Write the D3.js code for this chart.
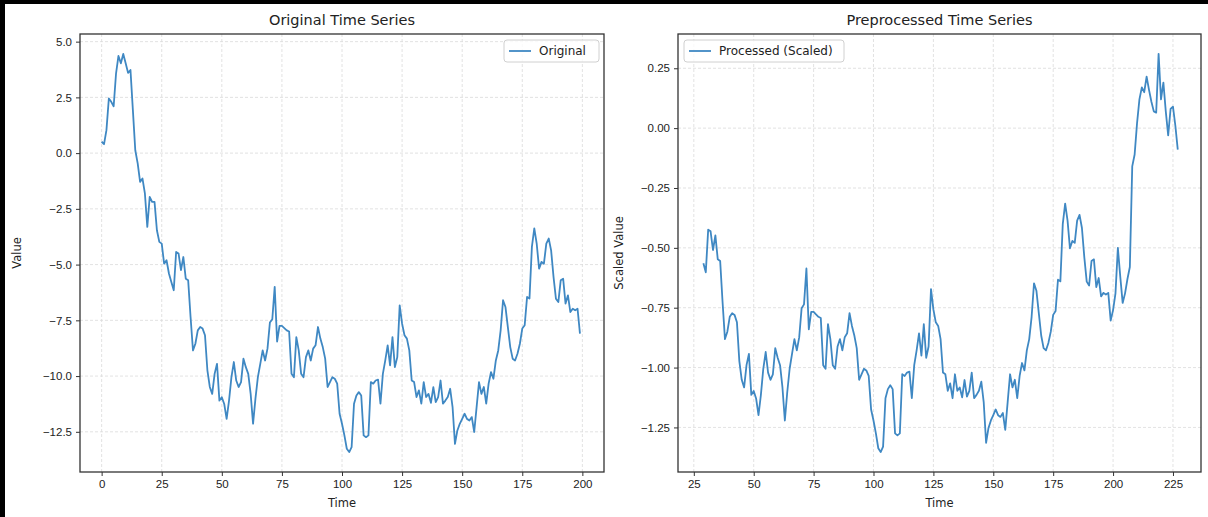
<!DOCTYPE html>
<html lang="en">
<head>
<meta charset="utf-8">
<title>Time Series</title>
<script src="https://d3js.org/d3.v7.min.js"></script>
<style>
  body { margin: 0; background: #fff; }
  svg { display: block; font-family: "DejaVu Sans", sans-serif; }
</style>
</head>
<body>
<svg width="1208" height="517"></svg>
<script>
// original series, time 0..199
var originalStart = 0;
var originalValues = [
  0.51, 0.40, 1.03, 2.45, 2.30, 2.10, 3.58, 4.36, 4.03, 4.45,
  4.03, 3.60, 3.73, 1.93, 0.13, -0.46, -1.29, -1.14, -1.81, -3.31,
  -1.96, -2.19, -2.19, -3.46, -3.98, -4.06, -4.96, -4.80, -5.40, -5.78,
  -6.15, -4.43, -4.50, -5.25, -4.66, -5.63, -5.70, -7.35, -8.85, -8.55,
  -7.95, -7.80, -7.87, -8.17, -9.74, -10.49, -10.80, -9.90, -9.45, -11.10,
  -10.95, -11.25, -11.92, -11.10, -10.05, -9.37, -10.20, -10.49, -10.27, -9.22,
  -9.60, -9.90, -10.80, -12.14, -11.00, -10.05, -9.45, -8.85, -9.30, -8.77,
  -7.60, -7.45, -6.00, -8.45, -7.75, -7.75, -7.85, -7.95, -8.00, -9.90,
  -10.05, -8.25, -8.85, -9.90, -10.05, -9.15, -8.85, -9.30, -8.77, -8.62,
  -7.80, -8.32, -8.70, -9.22, -10.49, -10.27, -10.05, -10.12, -10.34, -11.69,
  -12.14, -12.66, -13.26, -13.41, -13.19, -11.24, -10.87, -10.72, -10.87, -12.66,
  -12.74, -12.66, -10.27, -10.34, -10.20, -10.16, -11.24, -9.90, -9.30, -8.62,
  -9.52, -8.25, -9.60, -9.15, -6.83, -7.65, -8.17, -8.32, -8.85, -10.20,
  -10.27, -10.94, -10.64, -11.24, -10.27, -10.94, -10.80, -11.20, -10.50, -11.17,
  -10.94, -10.20, -11.24, -11.10, -10.94, -10.57, -11.39, -13.04, -12.44, -12.14,
  -11.92, -11.69, -11.92, -11.99, -11.84, -12.51, -11.39, -10.27, -10.80, -10.49,
  -11.24, -10.34, -9.82, -10.12, -9.30, -8.85, -7.95, -6.60, -6.90, -7.80,
  -8.70, -9.22, -9.30, -9.00, -8.55, -7.87, -7.72, -6.45, -6.52, -4.21,
  -3.38, -4.06, -5.18, -4.88, -4.96, -4.06, -3.83, -4.36, -5.55, -6.53,
  -6.68, -5.70, -5.63, -6.75, -6.38, -7.13, -6.98, -7.05, -6.98, -8.10
];

// processed (scaled) series, time 29..227
var processedStart = 29;
var processedValues = [
  -0.564, -0.602, -0.424, -0.431, -0.509, -0.448, -0.548, -0.555, -0.726, -0.881,
  -0.850, -0.788, -0.773, -0.780, -0.811, -0.973, -1.051, -1.083, -0.990, -0.943,
  -1.114, -1.098, -1.129, -1.199, -1.114, -1.005, -0.935, -1.021, -1.051, -1.028,
  -0.919, -0.959, -0.990, -1.083, -1.221, -1.103, -1.005, -0.943, -0.881, -0.928,
  -0.873, -0.752, -0.736, -0.586, -0.840, -0.767, -0.767, -0.778, -0.788, -0.793,
  -0.990, -1.005, -0.819, -0.881, -0.990, -1.005, -0.912, -0.881, -0.928, -0.873,
  -0.857, -0.773, -0.826, -0.866, -0.919, -1.051, -1.028, -1.005, -1.012, -1.035,
  -1.175, -1.221, -1.275, -1.337, -1.353, -1.330, -1.128, -1.090, -1.074, -1.090,
  -1.275, -1.283, -1.275, -1.028, -1.035, -1.021, -1.017, -1.128, -0.990, -0.928,
  -0.857, -0.950, -0.819, -0.959, -0.912, -0.672, -0.757, -0.811, -0.826, -0.881,
  -1.021, -1.028, -1.097, -1.066, -1.128, -1.028, -1.097, -1.083, -1.124, -1.052,
  -1.121, -1.097, -1.021, -1.128, -1.114, -1.097, -1.059, -1.144, -1.314, -1.252,
  -1.221, -1.199, -1.175, -1.199, -1.206, -1.190, -1.260, -1.144, -1.028, -1.083,
  -1.051, -1.128, -1.035, -0.981, -1.012, -0.928, -0.881, -0.788, -0.648, -0.679,
  -0.773, -0.866, -0.919, -0.928, -0.897, -0.850, -0.780, -0.764, -0.633, -0.640,
  -0.401, -0.315, -0.386, -0.502, -0.471, -0.479, -0.386, -0.362, -0.417, -0.540,
  -0.641, -0.657, -0.555, -0.548, -0.664, -0.626, -0.703, -0.688, -0.695, -0.688,
  -0.804, -0.76, -0.69, -0.50, -0.62, -0.73, -0.69, -0.63, -0.58, -0.16,
  -0.11, 0.02, 0.12, 0.17, 0.15, 0.215, 0.16, 0.11, 0.07, 0.065,
  0.31, 0.12, 0.19, 0.07, -0.03, 0.08, 0.09, 0.01, -0.09
];

var originalXTicks = [0, 25, 50, 75, 100, 125, 150, 175, 200];
var originalYTicks = [-12.5, -10, -7.5, -5, -2.5, 0, 2.5, 5];
var processedXTicks = [25, 50, 75, 100, 125, 150, 175, 200, 225];
var processedYTicks = [-1.25, -1, -0.75, -0.5, -0.25, 0, 0.25];

var svg = d3.select("svg");
var lineColor = "#3f88c3";
var textColor = "#222";

svg.append("rect").attr("width", 1208).attr("height", 517).attr("fill", "#fff");
// black frame on top / left edge of the screenshot
svg.append("rect").attr("x", 0).attr("y", 0).attr("width", 1208).attr("height", 4).attr("fill", "#000");
svg.append("rect").attr("x", 0).attr("y", 0).attr("width", 5).attr("height", 517).attr("fill", "#000");

function drawPanel(o) {
    var g = svg.append("g");
    var x = d3.scaleLinear().domain(o.xDomain).range([o.left, o.right]);
    var ext = d3.extent(o.values);
    var pad = (ext[1] - ext[0]) * 0.05;
    var y = d3.scaleLinear().domain([ext[0] - pad, ext[1] + pad]).range([o.bottom, o.top]);

    // grid
    g.selectAll(".vgrid").data(o.xTicks).enter().append("line")
        .attr("x1", function(d){ return x(d); }).attr("x2", function(d){ return x(d); })
        .attr("y1", o.top).attr("y2", o.bottom)
        .attr("stroke", "#dadada").attr("stroke-width", 0.8).attr("stroke-dasharray", "3,2");
    g.selectAll(".hgrid").data(o.yTicks).enter().append("line")
        .attr("x1", o.left).attr("x2", o.right)
        .attr("y1", function(d){ return y(d); }).attr("y2", function(d){ return y(d); })
        .attr("stroke", "#dadada").attr("stroke-width", 0.8).attr("stroke-dasharray", "3,2");

    // series
    var line = d3.line()
        .x(function(d, i){ return x(o.start + i); })
        .y(function(d){ return y(d); });
    g.append("path").datum(o.values)
        .attr("d", line)
        .attr("fill", "none")
        .attr("stroke", lineColor)
        .attr("stroke-width", 1.8)
        .attr("stroke-linejoin", "round");

    // axes
    var xAxis = d3.axisBottom(x).tickValues(o.xTicks).tickSize(4).tickPadding(4).tickFormat(d3.format("d"));
    var yAxis = d3.axisLeft(y).tickValues(o.yTicks).tickSize(4).tickPadding(4).tickFormat(d3.format(o.yFormat));
    var gx = g.append("g").attr("transform", "translate(0," + o.bottom + ")").call(xAxis);
    var gy = g.append("g").attr("transform", "translate(" + o.left + ",0)").call(yAxis);
    [gx, gy].forEach(function(a){
        a.select(".domain").remove();
        a.selectAll("line").attr("stroke", "#333");
        a.selectAll("text").attr("fill", textColor).style("font-size", "11.5px");
    });

    // spines
    g.append("rect")
        .attr("x", o.left).attr("y", o.top)
        .attr("width", o.right - o.left).attr("height", o.bottom - o.top)
        .attr("fill", "none").attr("stroke", "#333").attr("stroke-width", 1.3);

    // title and labels
    g.append("text")
        .attr("x", (o.left + o.right) / 2).attr("y", 25)
        .attr("text-anchor", "middle").attr("fill", textColor)
        .style("font-size", "14.5px")
        .text(o.title);
    g.append("text")
        .attr("x", (o.left + o.right) / 2).attr("y", 507)
        .attr("text-anchor", "middle").attr("fill", textColor)
        .style("font-size", "11.5px")
        .text("Time");
    g.append("text")
        .attr("transform", "translate(" + o.yLabelX + "," + ((o.top + o.bottom) / 2) + ") rotate(-90)")
        .attr("text-anchor", "middle").attr("fill", textColor)
        .style("font-size", "11.5px")
        .text(o.yLabel);

    // legend
    var lg = g.append("g").attr("transform", "translate(" + o.legendX + "," + (o.top + 6) + ")");
    lg.append("rect")
        .attr("width", o.legendW).attr("height", 22).attr("rx", 3)
        .attr("fill", "#fff").attr("fill-opacity", 0.8)
        .attr("stroke", "#d0d0d0");
    lg.append("line")
        .attr("x1", 5).attr("x2", 27).attr("y1", 11).attr("y2", 11)
        .attr("stroke", lineColor).attr("stroke-width", 1.8);
    lg.append("text")
        .attr("x", 35).attr("y", 15)
        .attr("fill", textColor).style("font-size", "12px")
        .text(o.legendText);
}

drawPanel({
    values: originalValues, start: originalStart,
    xDomain: [-9, 209], xTicks: originalXTicks, yTicks: originalYTicks, yFormat: ".1f",
    left: 80, right: 604, top: 34, bottom: 472,
    title: "Original Time Series", yLabel: "Value", yLabelX: 21,
    legendText: "Original", legendX: 504, legendW: 95
});

drawPanel({
    values: processedValues, start: processedStart,
    xDomain: [18.4, 236.7], xTicks: processedXTicks, yTicks: processedYTicks, yFormat: ".2f",
    left: 678, right: 1201, top: 34, bottom: 472,
    title: "Preprocessed Time Series", yLabel: "Scaled Value", yLabelX: 623,
    legendText: "Processed (Scaled)", legendX: 684, legendW: 160
});
</script>
</body>
</html>
